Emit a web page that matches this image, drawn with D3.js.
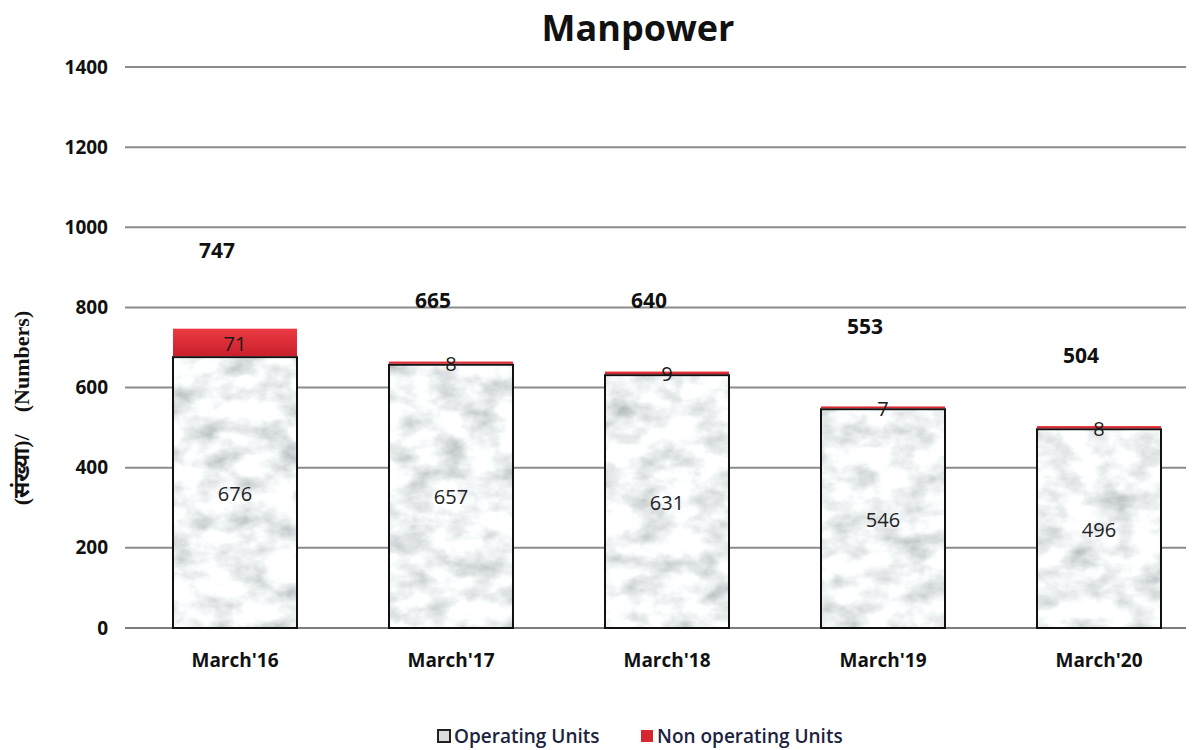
<!DOCTYPE html>
<html>
<head>
<meta charset="utf-8">
<script src="https://cdn.jsdelivr.net/npm/d3@7"></script>
<style>
  body { margin: 0; background: #fff; }
  svg { display: block; }
</style>
</head>
<body>
<div id="chart"></div>
<script>
// Chart data
const categories = ["March'16", "March'17", "March'18", "March'19", "March'20"];
const operating = [676, 657, 631, 546, 496];
const nonOperating = [71, 8, 9, 7, 8];
const totals = [747, 665, 640, 553, 504];
// where the total labels float (in axis units, as in the original)
const totalLabelAt = [943, 818, 818, 754, 681];
const yTicks = [0, 200, 400, 600, 800, 1000, 1200, 1400];

const width = 1202;
const height = 750;
const font = "Open Sans, Lato, sans-serif";

const svg = d3.select("#chart")
  .append("svg")
  .attr("width", width)
  .attr("height", height);

const defs = svg.append("defs");

// Marble-like texture for the operating units
const marble = defs.append("filter")
  .attr("id", "marble")
  .attr("x", 0).attr("y", 0).attr("width", 1).attr("height", 1);
marble.append("feTurbulence")
  .attr("type", "fractalNoise")
  .attr("baseFrequency", "0.03 0.045")
  .attr("numOctaves", 4)
  .attr("seed", 11)
  .attr("result", "noise");
marble.append("feColorMatrix")
  .attr("in", "noise")
  .attr("type", "matrix")
  .attr("values",
    "0 0 0 -1.0 1.38 " +
    "0 0 0 -0.95 1.38 " +
    "0 0 0 -0.95 1.39 " +
    "0 0 0 0 1")
  .attr("result", "tone");
marble.append("feComposite")
  .attr("in", "tone")
  .attr("in2", "SourceGraphic")
  .attr("operator", "in");

// Red gradient for non-operating units
const redGrad = defs.append("linearGradient")
  .attr("id", "redGrad")
  .attr("x1", 0).attr("y1", 0).attr("x2", 0).attr("y2", 1);
redGrad.append("stop").attr("offset", "0%").attr("stop-color", "#ec3a44");
redGrad.append("stop").attr("offset", "100%").attr("stop-color", "#c9202b");

// Scales
const x = d3.scaleBand()
  .domain(categories)
  .range([127, 1207])
  .paddingInner(0.426)
  .paddingOuter(0.213);

const y = d3.scaleLinear()
  .domain([0, 1400])
  .range([628, 67]);

// Gridlines
svg.append("g")
  .selectAll("line")
  .data(yTicks)
  .enter()
  .append("line")
  .attr("x1", 125)
  .attr("x2", 1186)
  .attr("y1", (d) => y(d))
  .attr("y2", (d) => y(d))
  .attr("stroke", (d) => d === 0 ? "#7c7c7c" : "#8c8c8c")
  .attr("stroke-width", 2);

// Y axis tick labels
const yAxis = d3.axisLeft(y)
  .tickValues(yTicks)
  .tickFormat(d3.format("d"))
  .tickSize(0)
  .tickPadding(0);
const yG = svg.append("g")
  .attr("transform", "translate(108,0)")
  .call(yAxis);
yG.select(".domain").remove();
yG.selectAll("text")
  .attr("font-family", font)
  .attr("font-weight", "bold")
  .attr("font-size", 19)
  .attr("fill", "#111");

// X axis labels
const xAxis = d3.axisBottom(x).tickSize(0).tickPadding(0);
const xG = svg.append("g")
  .attr("transform", "translate(0,653)")
  .call(xAxis);
xG.select(".domain").remove();
xG.selectAll("text")
  .attr("font-family", font)
  .attr("font-weight", "bold")
  .attr("font-size", 19)
  .attr("fill", "#111");

// Operating bars
svg.append("g")
  .selectAll("rect")
  .data(categories)
  .enter()
  .append("rect")
  .attr("x", (d) => x(d))
  .attr("y", (d, i) => y(operating[i]))
  .attr("width", x.bandwidth())
  .attr("height", (d, i) => y(0) - y(operating[i]))
  .attr("fill", "#ddd")
  .attr("filter", "url(#marble)");

svg.append("g")
  .selectAll("rect")
  .data(categories)
  .enter()
  .append("rect")
  .attr("x", (d) => x(d))
  .attr("y", (d, i) => y(operating[i]))
  .attr("width", x.bandwidth())
  .attr("height", (d, i) => y(0) - y(operating[i]))
  .attr("fill", "none")
  .attr("stroke", "#111")
  .attr("stroke-width", 2);

// Non-operating segments
svg.append("g")
  .selectAll("rect")
  .data(categories)
  .enter()
  .append("rect")
  .attr("x", (d) => x(d))
  .attr("y", (d, i) => y(operating[i] + nonOperating[i]))
  .attr("width", x.bandwidth())
  .attr("height", (d, i) => y(operating[i]) - y(operating[i] + nonOperating[i]) - 1)
  .attr("fill", "url(#redGrad)");

// Operating value labels
svg.append("g")
  .selectAll("text")
  .data(categories)
  .enter()
  .append("text")
  .attr("x", (d) => x(d) + x.bandwidth() / 2)
  .attr("y", (d, i) => y(operating[i] / 2) + 8)
  .attr("text-anchor", "middle")
  .attr("font-family", font)
  .attr("font-size", 20)
  .attr("fill", "#222")
  .text((d, i) => operating[i]);

// Non-operating value labels
svg.append("g")
  .selectAll("text")
  .data(categories)
  .enter()
  .append("text")
  .attr("x", (d) => x(d) + x.bandwidth() / 2)
  .attr("y", (d, i) => y(operating[i] + nonOperating[i] / 2) + 8)
  .attr("text-anchor", "middle")
  .attr("font-family", font)
  .attr("font-size", 20)
  .attr("fill", "#1a1a1a")
  .text((d, i) => nonOperating[i]);

// Total labels
svg.append("g")
  .selectAll("text")
  .data(categories)
  .enter()
  .append("text")
  .attr("x", (d) => x(d) + x.bandwidth() / 2 - 18)
  .attr("y", (d, i) => y(totalLabelAt[i]) + 8)
  .attr("text-anchor", "middle")
  .attr("font-family", font)
  .attr("font-weight", "bold")
  .attr("font-size", 21)
  .attr("fill", "#111")
  .text((d, i) => totals[i]);

// Title
svg.append("text")
  .attr("x", 638)
  .attr("y", 41)
  .attr("text-anchor", "middle")
  .attr("font-family", font)
  .attr("font-weight", "bold")
  .attr("font-size", 36)
  .attr("fill", "#111")
  .text("Manpower");

// Y axis title
svg.append("text")
  .attr("transform", "translate(29,408) rotate(-90)")
  .attr("text-anchor", "middle")
  .attr("font-family", "Liberation Serif, Noto Sans, serif")
  .attr("font-weight", "bold")
  .attr("font-size", 22)
  .attr("fill", "#111")
  .attr("xml:space", "preserve")
  .text("(संख्या)/    (Numbers)");

// Legend
const legendItems = [
  { label: "Operating Units", fill: "#dcdcdc", stroke: "#222" },
  { label: "Non operating Units", fill: "#d7262f", stroke: "none" },
];
const legendX = [437, 640];
const legend = svg.append("g");
legend.selectAll("rect")
  .data(legendItems)
  .enter()
  .append("rect")
  .attr("x", (d, i) => legendX[i] + 1)
  .attr("y", 730)
  .attr("width", 12)
  .attr("height", 12)
  .attr("fill", (d) => d.fill)
  .attr("stroke", (d) => d.stroke)
  .attr("stroke-width", 2);
legend.selectAll("text")
  .data(legendItems)
  .enter()
  .append("text")
  .attr("x", (d, i) => legendX[i] + 17)
  .attr("y", 743)
  .attr("font-family", font)
  .attr("font-weight", 600)
  .attr("font-size", 19)
  .attr("fill", "#1c2340")
  .text((d) => d.label);
</script>
</body>
</html>
